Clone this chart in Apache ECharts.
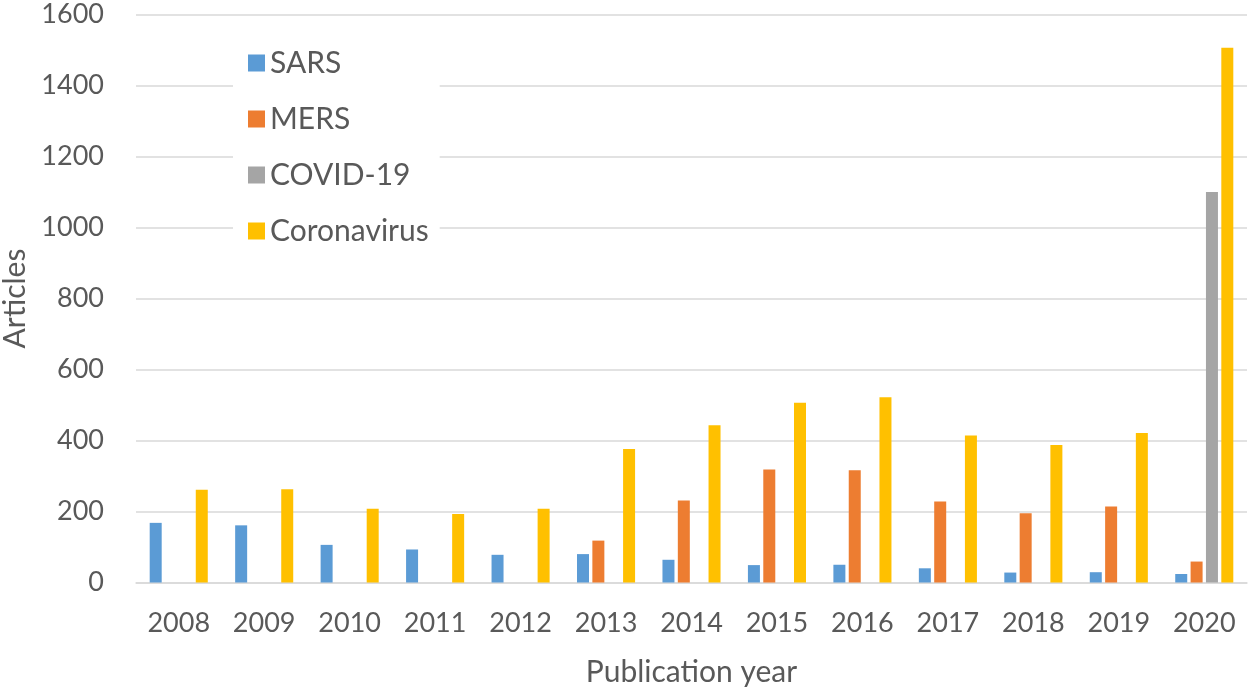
<!DOCTYPE html>
<html>
<head>
<meta charset="utf-8">
<script src="https://cdn.jsdelivr.net/npm/echarts@6/dist/echarts.min.js"></script>
<style>html,body{margin:0;padding:0;background:#fff}#c{width:1250px;height:689px}</style>
</head>
<body>
<div id="c"></div>
<script>
const years = ['2008','2009','2010','2011','2012','2013','2014','2015','2016','2017','2018','2019','2020'];
const sars = [168, 161, 106, 93, 78, 80, 64, 49, 50, 40, 28, 29, 24];
const mers = [null, null, null, null, null, 118, 231, 318, 316, 228, 195, 214, 59];
const covid = [null, null, null, null, null, null, null, null, null, null, null, null, 1100];
const coronavirus = [261, 263, 208, 193, 208, 376, 443, 506, 522, 414, 387, 421, 1506];
const seriesNames = ['SARS', 'MERS', 'COVID-19', 'Coronavirus'];
const colors = ['#5B9BD5', '#ED7D31', '#A5A5A5', '#FFC000'];

const font = 'Lato, "Open Sans", sans-serif';
const txt = '#595959';
const chart = echarts.init(document.getElementById('c'));
const datas = [sars, mers, covid, coronavirus];
chart.setOption({
  animation: false,
  color: colors,
  textStyle: { fontFamily: font },
  grid: { left: 136, right: 3, top: 14.5, bottom: 106.5, containLabel: false, outerBoundsMode: 'none' },
  legend: {
    orient: 'vertical',
    left: 233,
    top: 36,
    backgroundColor: '#fff',
    padding: [12, 11, 12, 15],
    itemWidth: 17,
    itemHeight: 17,
    itemGap: 26,
    icon: 'rect',
    data: seriesNames,
    textStyle: { color: txt, fontSize: 30, lineHeight: 30, fontFamily: font }
  },
  xAxis: {
    type: 'category',
    data: years,
    name: 'Publication year',
    nameLocation: 'middle',
    nameGap: 75,
    nameTextStyle: { color: txt, fontSize: 30, fontFamily: font },
    axisLine: { show: true, lineStyle: { color: '#D9D9D9', width: 1.5 } },
    axisTick: { show: false },
    axisLabel: { color: txt, fontSize: 27, fontFamily: font, margin: 27 }
  },
  yAxis: {
    type: 'value',
    min: 0, max: 1600, interval: 200,
    name: 'Articles',
    nameLocation: 'middle',
    nameGap: 106,
    nameRotate: 90,
    nameTextStyle: { color: txt, fontSize: 30, fontFamily: font },
    axisLine: { show: false },
    axisTick: { show: false },
    axisLabel: { color: txt, fontSize: 27, fontFamily: font, margin: 32, formatter: v => String(v) },
    splitLine: { lineStyle: { color: '#D9D9D9', width: 1.5 } }
  },
  series: seriesNames.map((n, i) => ({
    name: n,
    type: 'bar',
    data: datas[i],
    barWidth: 12,
    barGap: '28%',
    itemStyle: { color: colors[i] }
  }))
});
</script>
</body>
</html>
